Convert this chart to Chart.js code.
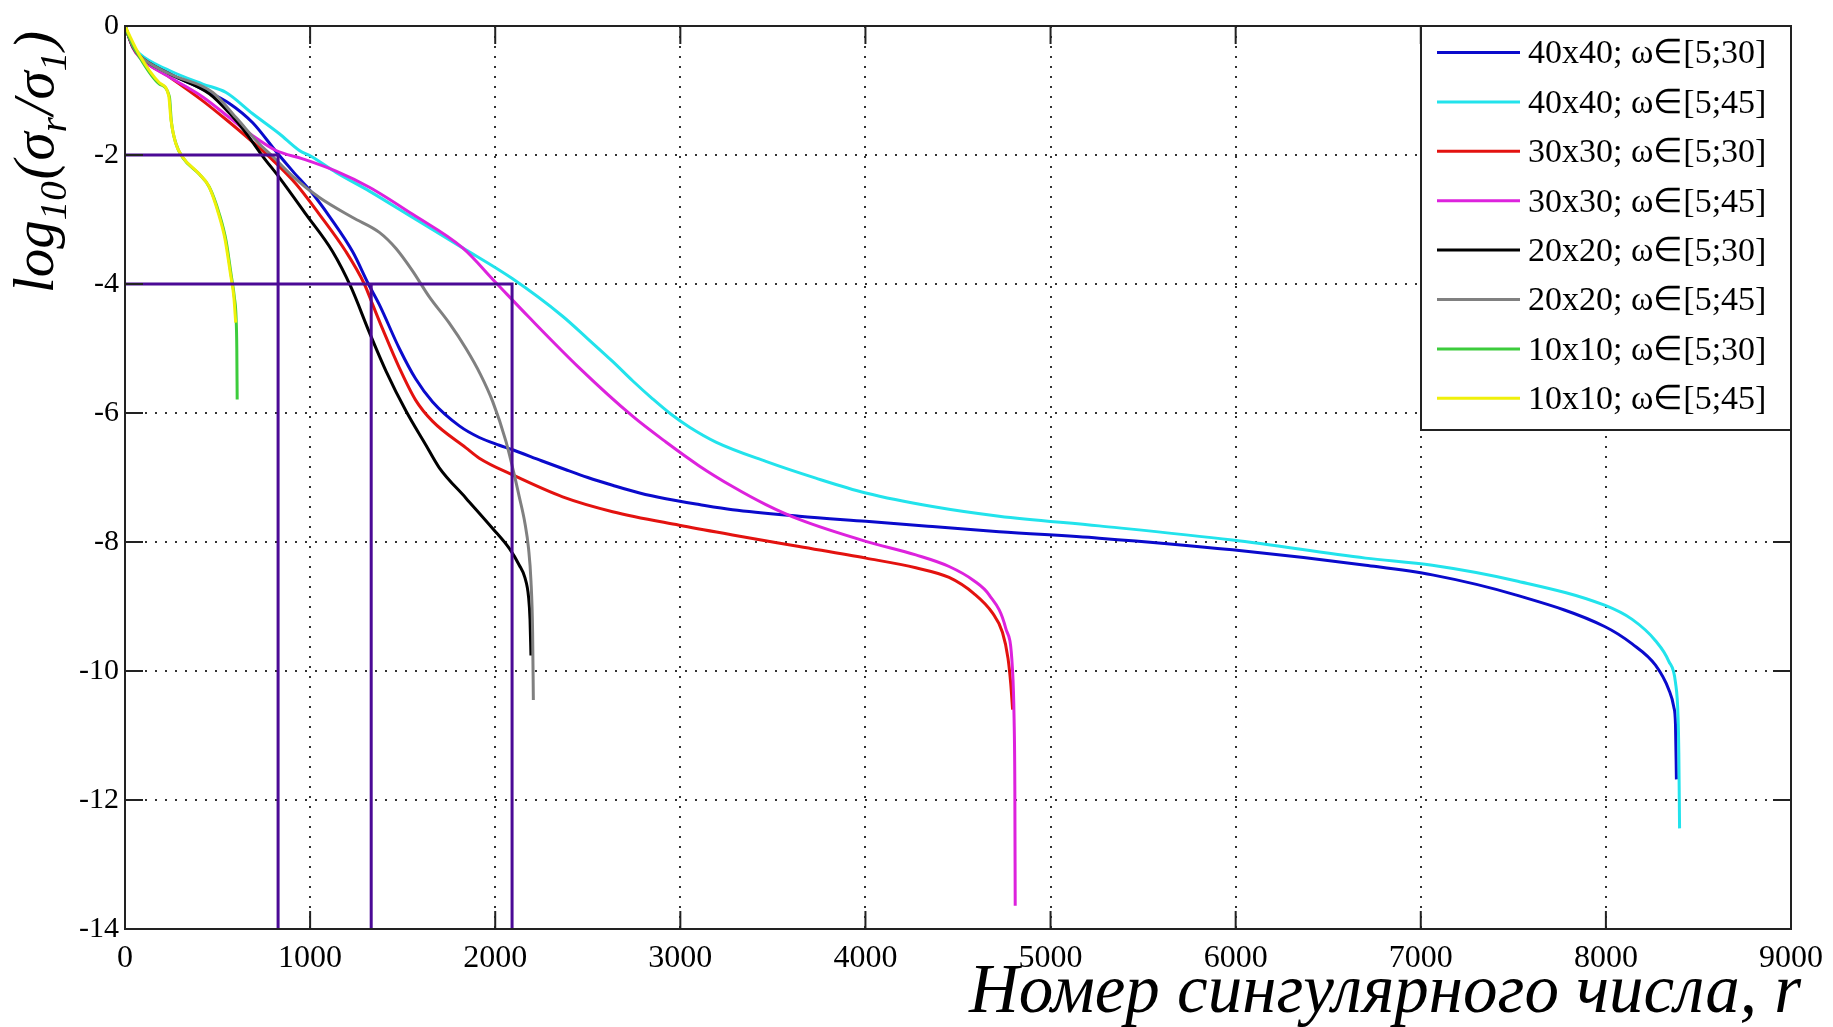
<!DOCTYPE html>
<html>
<head>
<meta charset="utf-8">
<script src="https://cdn.jsdelivr.net/npm/chart.js@4.4.1/dist/chart.umd.min.js"></script>
<style>
html,body{margin:0;padding:0;background:#fff;}
</style>
</head>
<body>
<canvas id="chart" width="1833" height="1027"></canvas>
<script>
const seriesLabels = [
"40x40; ω∈[5;30]",
"40x40; ω∈[5;45]",
"30x30; ω∈[5;30]",
"30x30; ω∈[5;45]",
"20x20; ω∈[5;30]",
"20x20; ω∈[5;45]",
"10x10; ω∈[5;30]",
"10x10; ω∈[5;45]"
];
const seriesColors = ["#0a0acc","#22e3ec","#e3120f","#dd22dd","#000000","#808080","#3ccc3c","#f0f00a"];

/* singular value number r and log10(sigma_r/sigma_1) for each run */
const r40_30 = [1,15,42,78,240,420,564,690,817,906,1014,1104,1230,1315,1374,1482,1570,1662,1806,1914,2022,2094,2250,2382,2500,2634,2780,2922,3102,3282,3642,4002,4362,4722,5262,5982,6702,7062,7512,7993,8142,8268,8340,8367,8376,8381];
const s40_30 = [0,-0.12,-0.32,-0.46,-0.74,-0.98,-1.2,-1.5,-1.95,-2.25,-2.6,-2.95,-3.5,-4.0,-4.32,-5.0,-5.47,-5.83,-6.2,-6.38,-6.5,-6.57,-6.74,-6.88,-7.0,-7.12,-7.24,-7.33,-7.42,-7.5,-7.6,-7.68,-7.76,-7.84,-7.94,-8.12,-8.36,-8.51,-8.82,-9.31,-9.58,-9.91,-10.29,-10.56,-10.83,-11.68];

const r40_45 = [1,15,42,78,240,420,546,690,834,942,1005,1140,1320,1554,1824,2094,2364,2500,2634,2742,2850,2950,3050,3192,3462,3732,4002,4362,4722,5262,5982,6702,7062,7512,7993,8142,8268,8340,8376,8390,8394,8398];
const s40_45 = [0,-0.12,-0.3,-0.43,-0.69,-0.9,-1.03,-1.36,-1.67,-1.93,-2.02,-2.27,-2.56,-2.97,-3.44,-3.92,-4.5,-4.85,-5.2,-5.5,-5.78,-6.02,-6.22,-6.45,-6.75,-7.01,-7.24,-7.45,-7.6,-7.75,-7.97,-8.25,-8.36,-8.6,-8.98,-9.2,-9.53,-9.85,-10.18,-10.72,-11.27,-12.44];

const r30_30 = [1,15,42,78,240,420,546,690,798,924,1050,1194,1293,1338,1392,1482,1570,1662,1842,1914,2094,2364,2634,2994,3282,3642,4002,4272,4452,4586,4686,4740,4770,4785,4795];
const s30_30 = [0,-0.12,-0.33,-0.48,-0.79,-1.16,-1.45,-1.8,-2.08,-2.45,-2.92,-3.5,-4.0,-4.32,-4.7,-5.3,-5.8,-6.13,-6.54,-6.7,-6.96,-7.3,-7.53,-7.74,-7.89,-8.07,-8.25,-8.4,-8.55,-8.8,-9.1,-9.4,-9.8,-10.2,-10.6];

const r30_45 = [1,15,42,78,240,420,564,690,816,960,1140,1320,1554,1824,2004,2184,2454,2742,2922,3102,3282,3462,3642,4002,4272,4452,4586,4668,4758,4794,4803,4807,4809];
const s30_45 = [0,-0.12,-0.33,-0.48,-0.79,-1.1,-1.42,-1.7,-1.93,-2.06,-2.25,-2.5,-2.92,-3.44,-3.98,-4.52,-5.3,-6.05,-6.45,-6.82,-7.14,-7.42,-7.65,-7.99,-8.2,-8.38,-8.6,-8.82,-9.34,-9.96,-10.74,-11.78,-13.64];

const r20_30 = [1,15,42,78,240,456,564,654,744,834,978,1122,1221,1320,1410,1518,1626,1698,1842,1986,2076,2130,2160,2180,2188,2193];
const s20_30 = [0,-0.12,-0.32,-0.46,-0.74,-1.05,-1.35,-1.66,-2.02,-2.35,-2.92,-3.5,-4.05,-4.75,-5.35,-5.97,-6.5,-6.85,-7.32,-7.79,-8.1,-8.36,-8.55,-8.85,-9.2,-9.76];

const r20_45 = [1,15,42,78,240,474,600,726,790,906,1050,1230,1374,1464,1554,1644,1750,1842,1920,1986,2058,2100,2130,2160,2180,2193,2202,2206];
const s20_45 = [0,-0.12,-0.32,-0.46,-0.74,-1.03,-1.42,-1.83,-2.0,-2.33,-2.66,-2.97,-3.2,-3.45,-3.8,-4.2,-4.6,-5.0,-5.4,-5.82,-6.44,-6.92,-7.3,-7.7,-8.1,-8.6,-9.4,-10.45];

const r10_30 = [1,20,78,186,240,250,276,312,402,456,510,546,573,591,600,604,606];
const s10_30 = [0,-0.15,-0.48,-0.9,-1.1,-1.47,-1.83,-2.04,-2.3,-2.5,-2.92,-3.33,-3.85,-4.21,-4.52,-5.0,-5.79];

const r10_45 = [1,20,78,186,236,248,272,308,396,452,504,540,570,588,598];
const s10_45 = [0,-0.12,-0.45,-0.88,-1.08,-1.45,-1.8,-2.02,-2.28,-2.48,-2.9,-3.3,-3.85,-4.2,-4.6];

/* purple guide lines at the -2 and -4 levels */
const guide2_r = [0,827,827];
const guide2_s = [-2,-2,-14];
const guide4_r = [0,2091,2091];
const guide4_s = [-4,-4,-14];
const guideMid_r = [1330,1330];
const guideMid_s = [-4,-14];

const xTicks = [0,1000,2000,3000,4000,5000,6000,7000,8000,9000];
const yTicks = [0,-2,-4,-6,-8,-10,-12,-14];

const xTitle = "Номер сингулярного числа, r";
// y title pieces: [text, subscript?]
const yTitle = [["log",false],["10",true],["(σ",false],["r",true],["/σ",false],["1",true],[")",false]];

const serif = "'Liberation Serif','Times New Roman',serif";

function pts(xs, ys){
  return xs.map((x,i)=>({x:x, y:ys[i]}));
}

const runs = [
  [r40_30,s40_30],[r40_45,s40_45],[r30_30,s30_30],[r30_45,s30_45],
  [r20_30,s20_30],[r20_45,s20_45],[r10_30,s10_30],[r10_45,s10_45]
];

const datasets = runs.map((run,i)=>({
  label: seriesLabels[i],
  data: pts(run[0], run[1]),
  borderColor: seriesColors[i],
  borderWidth: 3,
  pointRadius: 0,
  cubicInterpolationMode: "monotone",
  order: runs.length - i
}));

const guideColor = "#4b0a96";
[[guide2_r,guide2_s],[guide4_r,guide4_s],[guideMid_r,guideMid_s]].forEach(g=>{
  datasets.push({
    label: "guide",
    data: pts(g[0], g[1]),
    borderColor: guideColor,
    borderWidth: 3,
    pointRadius: 0,
    tension: 0,
    order: -1
  });
});

/* box round the plot, inward ticks, legend and axis titles */
const framePlugin = {
  id: "frame",
  afterDatasetsDraw(chart){
    const ctx = chart.ctx;
    const a = chart.chartArea;
    const xs = chart.scales.x, ys = chart.scales.y;
    ctx.save();
    ctx.strokeStyle = "#222";
    ctx.lineWidth = 2;
    ctx.strokeRect(a.left, a.top, a.right-a.left, a.bottom-a.top);
    const tl = 18;
    ctx.beginPath();
    xTicks.forEach(v=>{
      const px = xs.getPixelForValue(v);
      ctx.moveTo(px, a.bottom); ctx.lineTo(px, a.bottom-tl);
      ctx.moveTo(px, a.top); ctx.lineTo(px, a.top+tl);
    });
    yTicks.forEach(v=>{
      const py = ys.getPixelForValue(v);
      ctx.moveTo(a.left, py); ctx.lineTo(a.left+tl, py);
      ctx.moveTo(a.right, py); ctx.lineTo(a.right-tl, py);
    });
    ctx.stroke();

    // legend
    const bw = 370, bh = 404;
    const bx = a.right - bw, by = a.top;
    ctx.fillStyle = "#fff";
    ctx.fillRect(bx, by, bw, bh);
    ctx.strokeStyle = "#222";
    ctx.lineWidth = 2;
    ctx.strokeRect(bx, by, bw, bh);
    ctx.font = "34px " + serif;
    ctx.textBaseline = "middle";
    ctx.textAlign = "left";
    seriesLabels.forEach((lab,i)=>{
      const y = by + 26.5 + i*49.4;
      ctx.strokeStyle = seriesColors[i];
      ctx.lineWidth = 3;
      ctx.beginPath();
      ctx.moveTo(bx+16, y); ctx.lineTo(bx+99, y);
      ctx.stroke();
      ctx.fillStyle = "#000";
      ctx.fillText(lab, bx+107, y+2);
    });

    // x title
    ctx.fillStyle = "#000";
    ctx.font = "italic 69px " + serif;
    ctx.textAlign = "right";
    ctx.textBaseline = "alphabetic";
    ctx.fillText(xTitle, a.right + 10, 1012);

    // y title, rotated, with subscripts
    ctx.translate(53, 293);
    ctx.rotate(-Math.PI/2);
    ctx.textAlign = "left";
    let cx = 0;
    const fs = 57;
    yTitle.forEach(p=>{
      const size = p[1] ? fs*0.68 : fs;
      ctx.font = "italic " + size + "px " + serif;
      ctx.fillText(p[0], cx, p[1] ? fs*0.22 : 0);
      cx += ctx.measureText(p[0]).width + (p[1] ? 2 : 0);
    });
    ctx.restore();
  }
};

new Chart(document.getElementById("chart"), {
  type: "line",
  data: { datasets: datasets },
  options: {
    responsive: false,
    animation: false,
    layout: { padding: { top: 26, right: 42, left: 0, bottom: 0 } },
    plugins: {
      legend: { display: false },
      tooltip: { enabled: false }
    },
    scales: {
      x: {
        type: "linear",
        min: 0, max: 9000,
        afterFit: s => { s.height = 98; },
        afterBuildTicks: s => { s.ticks = xTicks.map(v=>({value:v})); },
        ticks: { color: "#000", font: { family: serif, size: 32 }, padding: 10, maxRotation: 0, callback: v => String(v) },
        grid: { color: "#333", lineWidth: 2, drawTicks: false },
        border: { display: false, dash: [2, 8] }
      },
      y: {
        type: "linear",
        min: -14, max: 0,
        afterFit: s => { s.width = 125; },
        afterBuildTicks: s => { s.ticks = yTicks.map(v=>({value:v})); },
        ticks: { color: "#000", font: { family: serif, size: 30 }, padding: 6, callback: v => String(v) },
        grid: { color: "#333", lineWidth: 2, drawTicks: false },
        border: { display: false, dash: [2, 8] }
      }
    }
  },
  plugins: [framePlugin]
});
</script>
</body>
</html>
